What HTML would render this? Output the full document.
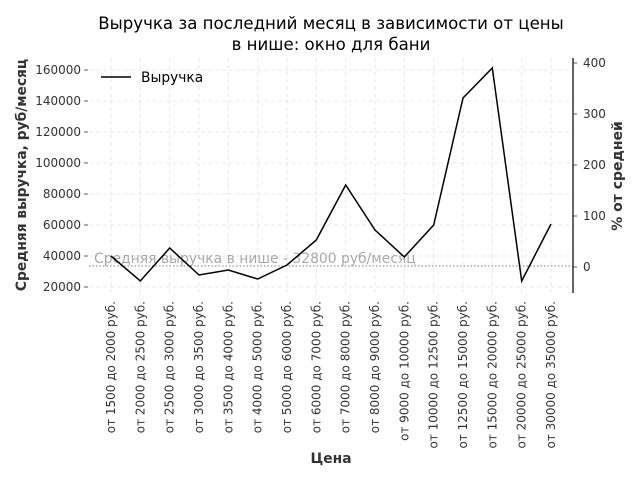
<!DOCTYPE html>
<html><head><meta charset="utf-8"><style>body{margin:0;background:#fff}svg{display:block}text{font-family:"DejaVu Sans","Liberation Sans",sans-serif}</style></head><body>
<svg width="640" height="480" viewBox="0 0 640 480" xmlns="http://www.w3.org/2000/svg">
<rect width="640" height="480" fill="#fff"/>
<text x="331" y="29" font-size="16.6" text-anchor="middle" fill="#000">Выручка за последний месяц в зависимости от цены</text>
<text x="331" y="50" font-size="16.6" text-anchor="middle" fill="#000">в нише: окно для бани</text>
<g stroke="#e3e3e3" stroke-width="0.8" stroke-dasharray="4,3">
<line x1="89" x2="573" y1="70" y2="70"/><line x1="89" x2="573" y1="101" y2="101"/><line x1="89" x2="573" y1="132" y2="132"/><line x1="89" x2="573" y1="163" y2="163"/><line x1="89" x2="573" y1="194" y2="194"/><line x1="89" x2="573" y1="225" y2="225"/><line x1="89" x2="573" y1="256" y2="256"/><line x1="89" x2="573" y1="287" y2="287"/>
<line x1="111" x2="111" y1="58" y2="293"/><line x1="140.3" x2="140.3" y1="58" y2="293"/><line x1="169.7" x2="169.7" y1="58" y2="293"/><line x1="199" x2="199" y1="58" y2="293"/><line x1="228.3" x2="228.3" y1="58" y2="293"/><line x1="257.7" x2="257.7" y1="58" y2="293"/><line x1="287" x2="287" y1="58" y2="293"/><line x1="316.3" x2="316.3" y1="58" y2="293"/><line x1="345.7" x2="345.7" y1="58" y2="293"/><line x1="375" x2="375" y1="58" y2="293"/><line x1="404.3" x2="404.3" y1="58" y2="293"/><line x1="433.7" x2="433.7" y1="58" y2="293"/><line x1="463" x2="463" y1="58" y2="293"/><line x1="492.3" x2="492.3" y1="58" y2="293"/><line x1="521.7" x2="521.7" y1="58" y2="293"/><line x1="551" x2="551" y1="58" y2="293"/>
</g>
<line x1="89" x2="573" y1="266" y2="266" stroke="#999" stroke-width="1.2" stroke-dasharray="1.5,2"/>
<text x="94" y="263" font-size="13.9" fill="#999" opacity="0.85">Средняя выручка в нише - 32800 руб/месяц</text>
<polyline fill="none" stroke="#000" stroke-width="1.5" points="111,256 140.3,281 169.7,248 199,275 228.3,270 257.7,279 287,265 316.3,240 345.7,185 375,230 404.3,257 433.7,225 463,98 492.3,68 521.7,281 551,224"/>
<line x1="573" x2="573" y1="58" y2="293" stroke="#000" stroke-width="1.2"/>
<g stroke="#333" stroke-width="0.8">
<line x1="84" x2="88" y1="70" y2="70"/><line x1="84" x2="88" y1="101" y2="101"/><line x1="84" x2="88" y1="132" y2="132"/><line x1="84" x2="88" y1="163" y2="163"/><line x1="84" x2="88" y1="194" y2="194"/><line x1="84" x2="88" y1="225" y2="225"/><line x1="84" x2="88" y1="256" y2="256"/><line x1="84" x2="88" y1="287" y2="287"/>
<line x1="573" x2="577" y1="63" y2="63"/><line x1="573" x2="577" y1="114" y2="114"/><line x1="573" x2="577" y1="165" y2="165"/><line x1="573" x2="577" y1="216" y2="216"/><line x1="573" x2="577" y1="267" y2="267"/>
</g>
<g font-size="12" fill="#333" text-anchor="end">
<text x="81" y="74">160000</text><text x="81" y="105">140000</text><text x="81" y="136">120000</text><text x="81" y="167">100000</text><text x="81" y="198">80000</text><text x="81" y="229">60000</text><text x="81" y="260">40000</text><text x="81" y="291">20000</text>
</g>
<g font-size="12" fill="#333">
<text x="583" y="67">400</text><text x="583" y="118">300</text><text x="583" y="169">200</text><text x="583" y="220">100</text><text x="583" y="271">0</text>
</g>
<text transform="translate(26,175) rotate(-90)" font-size="13.8" font-weight="bold" fill="#333" text-anchor="middle">Средняя выручка, руб/месяц</text>
<text transform="translate(622,176) rotate(-90)" font-size="14" font-weight="bold" fill="#333" text-anchor="middle">% от средней</text>
<text x="331" y="463" font-size="13.8" font-weight="bold" fill="#333" text-anchor="middle">Цена</text>
<line x1="101" x2="131" y1="77" y2="77" stroke="#000" stroke-width="1.5"/>
<text x="141" y="82" font-size="13.8" fill="#000">Выручка</text>
<g font-size="12" fill="#333" text-anchor="end">
<text transform="translate(115,301) rotate(-90)">от 1500 до 2000 руб.</text>
<text transform="translate(144.3,301) rotate(-90)">от 2000 до 2500 руб.</text>
<text transform="translate(173.7,301) rotate(-90)">от 2500 до 3000 руб.</text>
<text transform="translate(203,301) rotate(-90)">от 3000 до 3500 руб.</text>
<text transform="translate(232.3,301) rotate(-90)">от 3500 до 4000 руб.</text>
<text transform="translate(261.7,301) rotate(-90)">от 4000 до 5000 руб.</text>
<text transform="translate(291,301) rotate(-90)">от 5000 до 6000 руб.</text>
<text transform="translate(320.3,301) rotate(-90)">от 6000 до 7000 руб.</text>
<text transform="translate(349.7,301) rotate(-90)">от 7000 до 8000 руб.</text>
<text transform="translate(379,301) rotate(-90)">от 8000 до 9000 руб.</text>
<text transform="translate(408.3,301) rotate(-90)">от 9000 до 10000 руб.</text>
<text transform="translate(437.7,301) rotate(-90)">от 10000 до 12500 руб.</text>
<text transform="translate(467,301) rotate(-90)">от 12500 до 15000 руб.</text>
<text transform="translate(496.3,301) rotate(-90)">от 15000 до 20000 руб.</text>
<text transform="translate(525.7,301) rotate(-90)">от 20000 до 25000 руб.</text>
<text transform="translate(555,301) rotate(-90)">от 30000 до 35000 руб.</text>
</g>
</svg>
</body></html>
